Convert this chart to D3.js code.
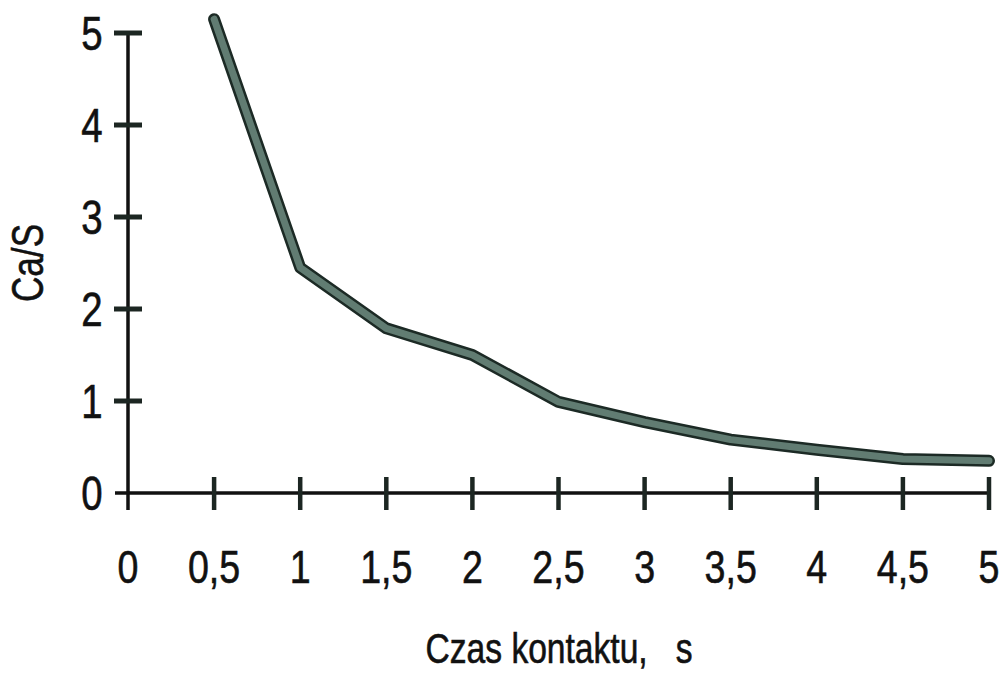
<!DOCTYPE html>
<html>
<head>
<meta charset="utf-8">
<script src="https://cdn.jsdelivr.net/npm/d3@7"></script>
<style>
  body { margin: 0; background: #fff; }
  text { font-family: "Liberation Sans Narrow", "Arial Narrow", "Liberation Sans", sans-serif; fill: #111; stroke: #111; stroke-width: 0.6; }
</style>
</head>
<body>
<div id="chart"></div>
<script>
var contactTime = [0.5, 1, 1.5, 2, 2.5, 3, 3.5, 4, 4.5, 5];
var caRatio = [5.15, 2.45, 1.79, 1.5, 0.99, 0.77, 0.58, 0.47, 0.37, 0.35];
var xTicks = [0, 0.5, 1, 1.5, 2, 2.5, 3, 3.5, 4, 4.5, 5];
var yTicks = [0, 1, 2, 3, 4, 5];
var xTitle = "Czas kontaktu,   s";
var yTitle = "Ca/S";

var w = 1003, h = 673;
var narrow = 0.8; // fake narrow face, no Arial Narrow installed

var svg = d3.select("#chart")
  .append("svg")
  .attr("width", w)
  .attr("height", h);

var x = d3.scaleLinear().domain([0, 5]).range([128, 989]);
var y = d3.scaleLinear().domain([0, 5]).range([493, 33]);

function fmt(d) { return String(d).replace(".", ","); }

// axis lines
svg.append("line")
  .attr("x1", x(0)).attr("x2", x(0))
  .attr("y1", y(5)).attr("y2", y(0) + 17)
  .attr("stroke", "#111").attr("stroke-width", 3.5);
svg.append("line")
  .attr("x1", x(0) - 13).attr("x2", x(5))
  .attr("y1", y(0)).attr("y2", y(0))
  .attr("stroke", "#111").attr("stroke-width", 3.5);

// y ticks
svg.selectAll("line.ytick")
  .data(yTicks.filter(function(d){ return d > 0; }))
  .enter()
  .append("line")
  .attr("class", "ytick")
  .attr("x1", x(0) - 14).attr("x2", x(0) + 14)
  .attr("y1", function(d){ return y(d); })
  .attr("y2", function(d){ return y(d); })
  .attr("stroke", "#1c2622").attr("stroke-width", 5);

// x ticks
svg.selectAll("line.xtick")
  .data(xTicks.filter(function(d){ return d > 0; }))
  .enter()
  .append("line")
  .attr("class", "xtick")
  .attr("x1", function(d){ return x(d); })
  .attr("x2", function(d){ return x(d); })
  .attr("y1", y(0) - 16).attr("y2", y(0) + 17)
  .attr("stroke", "#1c2622").attr("stroke-width", 4.5);

// y labels
svg.selectAll("text.ylab")
  .data(yTicks)
  .enter()
  .append("text")
  .attr("class", "ylab")
  .attr("transform", function(d){ return "translate(92," + (y(d) + 17) + ") scale(" + narrow + ",1)"; })
  .attr("text-anchor", "middle")
  .attr("font-size", 48)
  .text(function(d){ return d; });

// x labels
svg.selectAll("text.xlab")
  .data(xTicks)
  .enter()
  .append("text")
  .attr("class", "xlab")
  .attr("transform", function(d){ return "translate(" + x(d) + ",583) scale(" + narrow + ",1)"; })
  .attr("text-anchor", "middle")
  .attr("font-size", 47)
  .text(function(d){ return fmt(d); });

// titles
svg.append("text")
  .attr("transform", "translate(559,663) scale(" + narrow + ",1)")
  .attr("text-anchor", "middle")
  .attr("font-size", 42)
  .style("white-space", "pre")
  .text(xTitle);

svg.append("text")
  .attr("transform", "translate(43,263) rotate(-90) scale(" + narrow + ",1)")
  .attr("text-anchor", "middle")
  .attr("font-size", 44)
  .text(yTitle);

// curve: dark outline then grey-green fill
var line = d3.line()
  .x(function(d){ return x(d[0]); })
  .y(function(d){ return y(d[1]); });

var pts = d3.zip(contactTime, caRatio);

svg.append("path")
  .datum(pts)
  .attr("d", line)
  .attr("fill", "none")
  .attr("stroke", "#1c2a25")
  .attr("stroke-width", 12)
  .attr("stroke-linejoin", "round")
  .attr("stroke-linecap", "round");

svg.append("path")
  .datum(pts)
  .attr("d", line)
  .attr("fill", "none")
  .attr("stroke", "#617c72")
  .attr("stroke-width", 7)
  .attr("stroke-linejoin", "round")
  .attr("stroke-linecap", "round");
</script>
</body>
</html>
